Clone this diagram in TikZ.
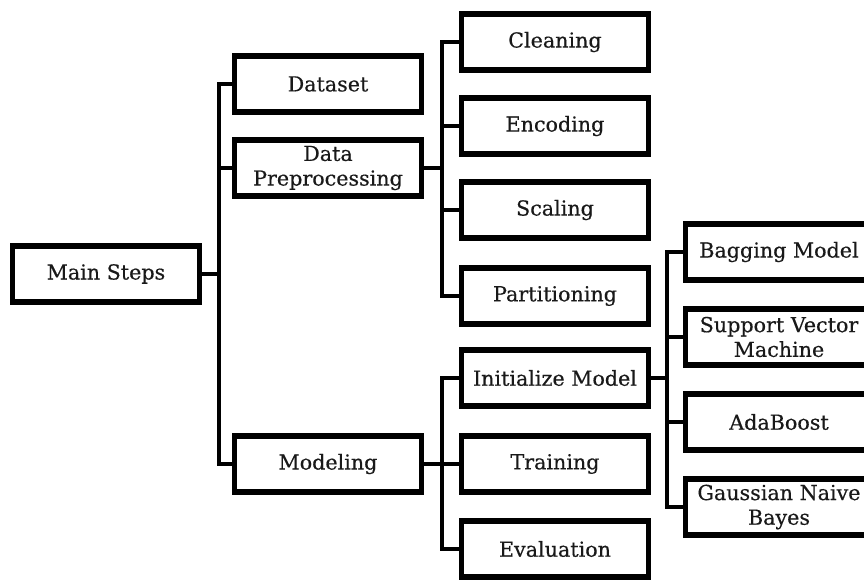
\documentclass[tikz,border=0pt]{standalone}
\usepackage{fontspec}
\setmainfont{DejaVu Serif}[FakeBold=0.4]
\begin{document}
\begin{tikzpicture}[x=0.75pt,y=-0.75pt,
  box/.style={draw=black, line width=3.8pt, fill=white, minimum width=140.2pt, minimum height=42pt,
    inner sep=2pt, align=center, text=black!90, font=\fontsize{15.5}{18.5}\selectfont},
  conn/.style={line width=2.4pt, line join=miter}]
\path[use as bounding box, clip] (0,0) rectangle (864,582);
\fill[white] (0,0) rectangle (864,582);
% nodes
\node[box] (main) at (106,274) {Main Steps};
\node[box] (dataset) at (328,84) {Dataset};
\node[box] (prep) at (328,168) {Data\\Preprocessing};
\node[box] (model) at (328,464) {Modeling};
\node[box] (clean) at (555,42) {Cleaning};
\node[box] (enc) at (555,126) {Encoding};
\node[box] (scal) at (555,210) {Scaling};
\node[box] (part) at (555,296) {Partitioning};
\node[box] (init) at (555,378) {Initialize Model};
\node[box] (train) at (555,464) {Training};
\node[box] (eval) at (555,549) {Evaluation};
\node[box] (bag) at (779,252) {Bagging Model};
\node[box] (svm) at (779,337) {Support Vector\\Machine};
\node[box] (ada) at (779,422) {AdaBoost};
\node[box] (gnb) at (779,507) {Gaussian Naive\\Bayes};
% bus coordinates
\coordinate (b1) at (219,0);
\coordinate (b2) at (442,0);
\coordinate (b3) at (667,0);
% connectors
\foreach \c in {dataset,prep,model}
  \draw[conn] (main.east) -- (main.east -| b1) |- (\c.west);
\foreach \c in {clean,enc,scal,part}
  \draw[conn] (prep.east) -- (prep.east -| b2) |- (\c.west);
\foreach \c in {init,train,eval}
  \draw[conn] (model.east) -- (model.east -| b2) |- (\c.west);
\foreach \c in {bag,svm,ada,gnb}
  \draw[conn] (init.east) -- (init.east -| b3) |- (\c.west);
\end{tikzpicture}
\end{document}
